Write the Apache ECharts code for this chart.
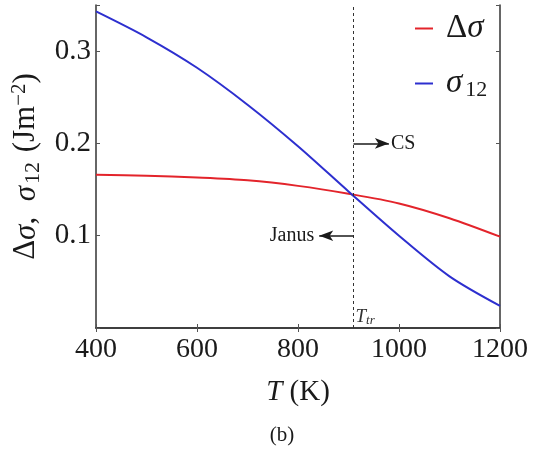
<!DOCTYPE html>
<html>
<head>
<meta charset="utf-8">
<script src="https://cdn.jsdelivr.net/npm/echarts@6/dist/echarts.min.js"></script>
<style>
  html, body { margin: 0; padding: 0; background: #fff; }
  #main { width: 545px; height: 450px; }
</style>
</head>
<body>
<div id="main"></div>
<script>
// data
var temps = [400, 500, 600, 700, 800, 900, 1000, 1100, 1200];
var deltaSigma = [0.166, 0.165, 0.163, 0.160, 0.154, 0.1455, 0.135, 0.119, 0.099];
var sigma12 = [0.343, 0.315, 0.282, 0.242, 0.197, 0.148, 0.100, 0.056, 0.024];
var xTicks = [400, 600, 800, 1000, 1200];
var yTicks = [0.1, 0.2, 0.3];
var tTr = 910;

var serif = 'Liberation Serif';
var ink = '#1a1a1a';

function pairs(xs, ys) {
    return xs.map(function (x, i) { return [x, ys[i]]; });
}

var myChart = echarts.init(document.getElementById('main'));

var axisLine = { show: true, lineStyle: { color: '#333', width: 1.5 } };
var tick = { show: true, inside: true, length: 4, lineStyle: { color: '#555' } };

var option = {
    backgroundColor: '#fff',
    animation: false,
    title: {
        text: '(b)',
        left: 277,
        top: 420,
        textAlign: 'center',
        textStyle: { fontFamily: serif, fontSize: 21, fontWeight: 'normal', color: ink }
    },
    grid: { left: 96, right: 45, top: 5, bottom: 122 },
    legend: {
        orient: 'vertical',
        left: 410,
        top: 7,
        itemWidth: 18,
        itemHeight: 2,
        itemGap: 22,
        icon: 'rect',
        data: ['Δσ', 'σ12'],
        formatter: function (name) {
            if (name === 'Δσ') return '{r|Δ}{i|σ}';
            return '{i0|σ}{sub|12}';
        },
        textStyle: {
            rich: {
                r: { fontFamily: serif, fontSize: 33, color: ink, padding: [0, 0, 0, 8] },
                i: { fontFamily: serif, fontSize: 33, fontStyle: 'italic', color: ink },
                i0: { fontFamily: serif, fontSize: 33, fontStyle: 'italic', color: ink, padding: [0, 0, 0, 8] },
                sub: { fontFamily: serif, fontSize: 22, color: ink, padding: [13, 0, 0, 3] }
            }
        }
    },
    xAxis: [{
        type: 'value',
        min: 400, max: 1200, interval: 200,
        name: '{i|T}{r| (K)}',
        nameLocation: 'middle',
        nameGap: 50,
        nameTextStyle: {
            rich: {
                i: { fontFamily: serif, fontSize: 29, fontStyle: 'italic', color: ink },
                r: { fontFamily: serif, fontSize: 29, color: ink }
            }
        },
        axisLine: axisLine,
        axisTick: tick,
        splitLine: { show: false },
        axisLabel: {
            margin: 8,
            fontFamily: serif, fontSize: 28, color: ink,
            formatter: function (v) { return xTicks.indexOf(v) >= 0 ? String(v) : ''; }
        }
    }, {
        type: 'value', position: 'top',
        min: 400, max: 1200, interval: 200,
        axisLine: axisLine, axisTick: tick,
        axisLabel: { show: false }, splitLine: { show: false }
    }],
    yAxis: [{
        type: 'value',
        min: 0, max: 0.35, interval: 0.1,
        name: '{r|Δ}{i|σ}{r|,  }{i|σ}{sub|12}{r| (Jm}{sup|−2}{r|)}',
        nameLocation: 'middle',
        nameGap: 52,
        nameTextStyle: {
            rich: {
                r: { fontFamily: serif, fontSize: 31, color: ink },
                i: { fontFamily: serif, fontSize: 31, fontStyle: 'italic', color: ink },
                sub: { fontFamily: serif, fontSize: 22, color: ink, padding: [13, 2, 0, 2] },
                sup: { fontFamily: serif, fontSize: 21, color: ink, padding: [0, 0, 13, 0] }
            }
        },
        axisLine: axisLine,
        axisTick: tick,
        splitLine: { show: false },
        axisLabel: {
            margin: 5,
            fontFamily: serif, fontSize: 29, color: ink,
            formatter: function (v) {
                for (var i = 0; i < yTicks.length; i++) {
                    if (Math.abs(v - yTicks[i]) < 1e-6) return yTicks[i].toFixed(1);
                }
                return '';
            }
        }
    }, {
        type: 'value', position: 'right',
        min: 0, max: 0.35, interval: 0.1,
        axisLine: axisLine, axisTick: tick,
        axisLabel: { show: false }, splitLine: { show: false }
    }],
    series: [
        {
            name: 'Δσ',
            type: 'line',
            smooth: 0.3,
            showSymbol: false,
            lineStyle: { color: '#e3242b', width: 2 },
            itemStyle: { color: '#e3242b' },
            data: pairs(temps, deltaSigma)
        },
        {
            name: 'σ12',
            type: 'line',
            smooth: 0.3,
            showSymbol: false,
            lineStyle: { color: '#2d2fcf', width: 2 },
            itemStyle: { color: '#2d2fcf' },
            data: pairs(temps, sigma12),
            markLine: {
                silent: true,
                symbol: ['none', 'none'],
                symbolSize: [8, 14],
                lineStyle: { color: ink, width: 1.5, type: 'solid' },
                label: { fontFamily: serif, fontSize: 20, color: ink },
                data: [
                    {
                        xAxis: tTr,
                        lineStyle: { color: '#333', width: 1, type: [3, 3] },
                        label: { show: false }
                    },
                    [
                        { coord: [tTr, 0.2] },
                        { coord: [980, 0.2], symbol: 'arrow', label: { show: true, position: 'end', formatter: 'CS', distance: 2 } }
                    ],
                    [
                        { coord: [tTr, 0.1] },
                        { coord: [842, 0.1], symbol: 'arrow', label: { show: true, position: 'end', formatter: 'Janus', distance: 5 } }
                    ]
                ]
            },
            markPoint: {
                silent: true,
                symbolSize: 0,
                data: [{
                    coord: [tTr, 0.012],
                    label: {
                        show: true,
                        position: 'right',
                        distance: 2,
                        formatter: '{i|T}{sub|tr}',
                        rich: {
                            i: { fontFamily: serif, fontSize: 19, fontStyle: 'italic', color: '#333' },
                            sub: { fontFamily: serif, fontSize: 13, fontStyle: 'italic', color: '#333', padding: [7, 0, 0, 0] }
                        }
                    }
                }]
            }
        }
    ]
};

myChart.setOption(option);
</script>
</body>
</html>
